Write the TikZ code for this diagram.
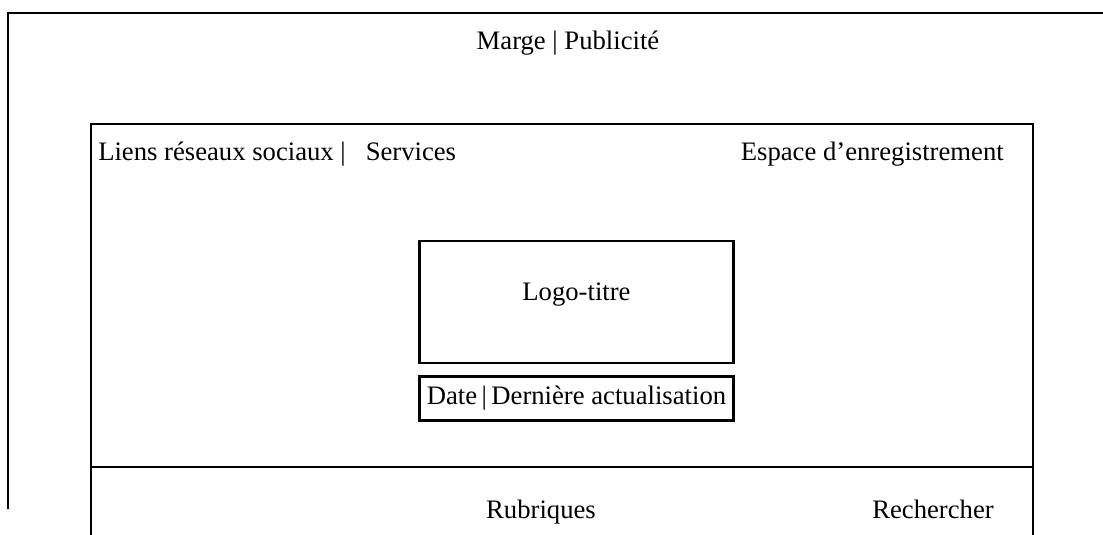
\documentclass[tikz,border=0pt]{standalone}
\usepackage{fontspec}
\setmainfont{Liberation Serif}
\usetikzlibrary{positioning}

\begin{document}
\begin{tikzpicture}[x=0.75pt, y=-0.75pt]
% STYLES
\tikzset{%
    zone/.style={%
line width=2.2pt,
draw=black
                          },
    label/.style={%
inner sep=0pt,
font=\fontsize{20}{24}\selectfont
                          },
    cadre/.style={%
zone,
rectangle,
inner sep=0pt,
minimum width=236pt,
font=\fontsize{20}{24}\selectfont
                          }
             }
\useasboundingbox (0,0) rectangle (1103,535);
\clip (0,0) rectangle (1103,535);

% Draw the page margins
\draw[zone] (8,509) -- (8,13) -- (1110,13);
\draw[zone] (91,545) -- (91,124) -- (1033,124) -- (1033,545);
\draw[zone] (91,467) -- (1033,467);

% Draw the header boxes
\node [cadre, minimum height=91.5pt, text depth=16pt] (logo) at (576.5,302) {Logo-titre};
\node [cadre, minimum height=33pt, below=8pt of logo] (date) {Date\,|\,Dernière actualisation};

% Draw the labels
\node [label, anchor=base] (marge) at (568,50) {Marge | Publicité};
\node [label, anchor=base west] (liens) at (98,160) {Liens réseaux sociaux |\ \ \ Services};
\node [label, anchor=base east] (espace) at (1004,160) {Espace d’enregistrement};
\node [label, anchor=base] (rubriques) at (541,518) {Rubriques};
\node [label, anchor=base] (rechercher) at (933,518) {Rechercher};
\end{tikzpicture}
\end{document}
